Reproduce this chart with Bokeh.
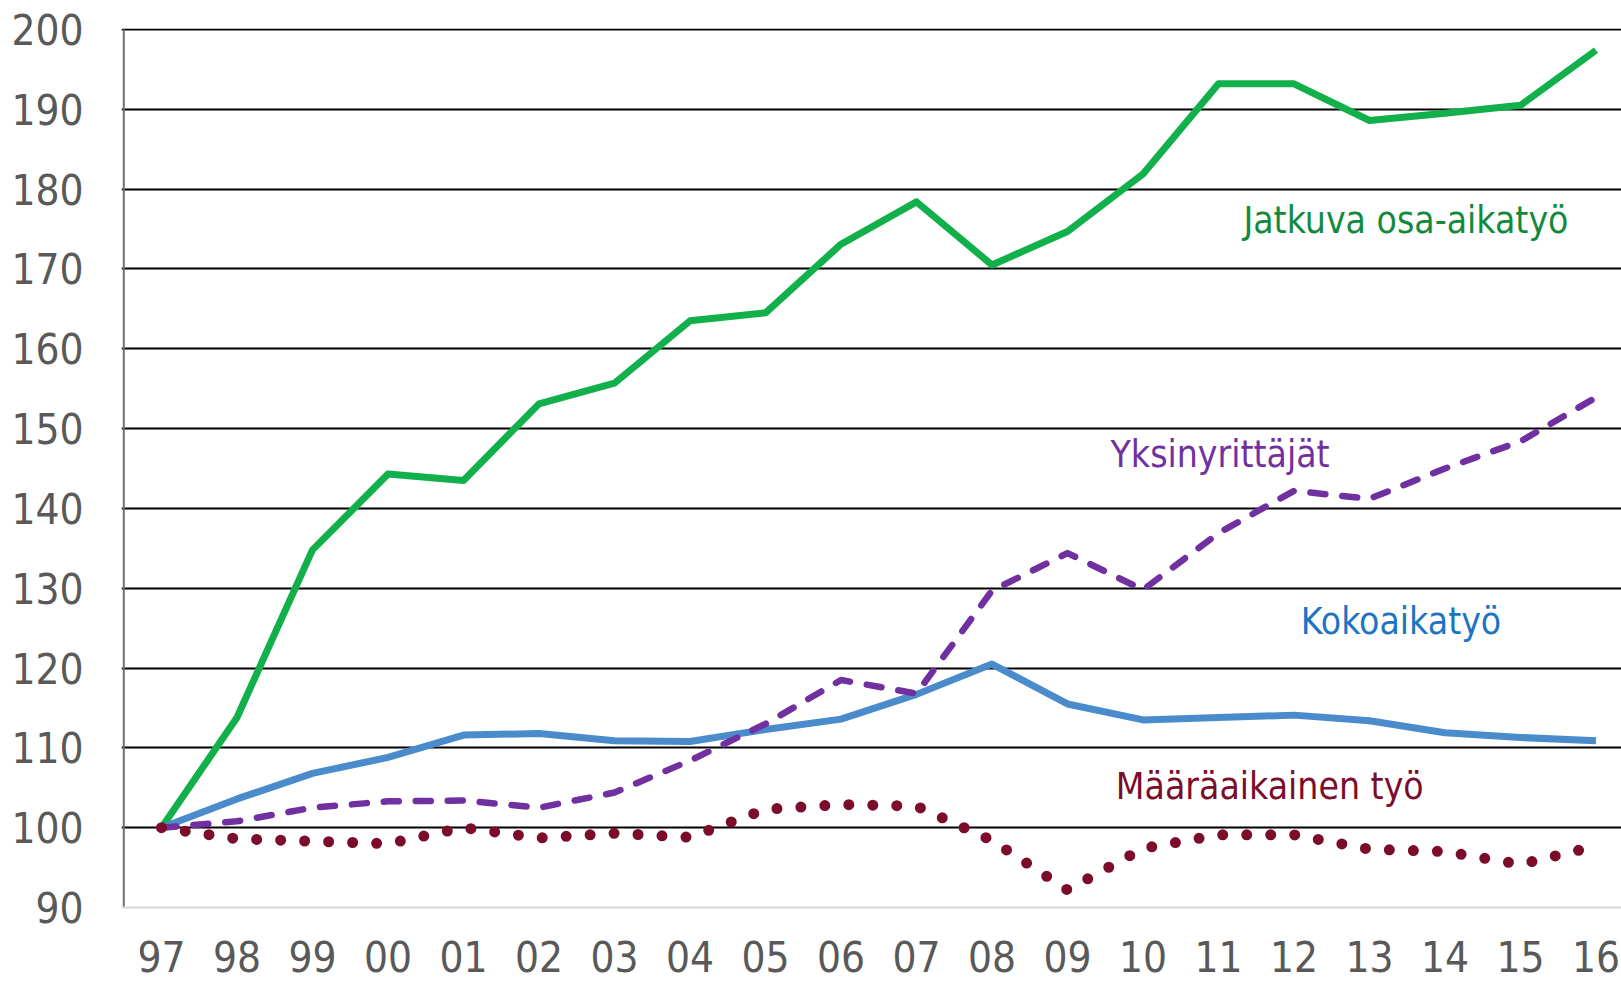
from bokeh.plotting import figure
from bokeh.models import Range1d, FixedTicker, ColumnDataSource, LabelSet, Label, Span
from bokeh.core.properties import value
from bokeh.embed import file_html
from bokeh.resources import INLINE

years = ["97", "98", "99", "00", "01", "02", "03", "04", "05", "06",
         "07", "08", "09", "10", "11", "12", "13", "14", "15", "16"]
x_idx = list(range(len(years)))

jatkuva_osa_aikatyo = [100, 113.8, 134.8, 144.3, 143.5, 153.1, 155.7, 163.5, 164.5, 173.1,
                       178.4, 170.5, 174.7, 181.9, 193.2, 193.2, 188.6, 189.5, 190.5, 197.4]
kokoaikatyo = [100, 103.6, 106.8, 108.8, 111.6, 111.8, 110.9, 110.8, 112.3, 113.6,
               116.7, 120.5, 115.5, 113.5, 113.8, 114.1, 113.4, 111.9, 111.3, 110.9]
yksinyrittajat = [100, 100.8, 102.5, 103.3, 103.4, 102.5, 104.4, 108.4, 113.0, 118.5,
                  116.8, 129.7, 134.4, 129.8, 136.9, 142.2, 141.2, 145.0, 148.4, 153.9]
maaraaikainen = [100, 98.6, 98.3, 98.0, 100.0, 98.7, 99.3, 98.8, 102.3, 102.9,
                 102.7, 98.4, 92.2, 97.4, 99.1, 99.1, 97.3, 97.0, 95.4, 97.7]

series_names = ["Jatkuva osa-aikatyö", "Yksinyrittäjät", "Kokoaikatyö", "Määräaikainen työ"]
y_ticks = [90, 100, 110, 120, 130, 140, 150, 160, 170, 180, 190, 200]
y_min, y_max = y_ticks[0], y_ticks[-1]

FONT = "DejaVu Sans Condensed"

# frame runs to the bottom of the canvas so that the year labels can sit below the x axis
PX_PER_UNIT = 7.98
PX_PER_YEAR = 75.5
p = figure(width=1621, height=982, output_backend="svg", toolbar_location=None,
           x_range=Range1d(-40 / PX_PER_YEAR, -40 / PX_PER_YEAR + 1500 / PX_PER_YEAR),
           y_range=Range1d(y_min - 75 / PX_PER_UNIT, y_max + 1 / PX_PER_UNIT),
           min_border_left=121, min_border_right=0, min_border_top=28, min_border_bottom=0)
p.outline_line_color = None
p.background_fill_color = "white"
p.border_fill_color = "white"

# y axis: labels only; its line is drawn from 90 to 200 below
p.yaxis.ticker = FixedTicker(ticks=y_ticks)
p.yaxis.major_label_text_font = FONT
p.yaxis.major_label_text_font_size = "42px"
p.yaxis.major_label_text_color = "#595959"
p.yaxis.major_label_standoff = 32
p.yaxis.major_tick_line_color = None
p.yaxis.minor_tick_line_color = None
p.yaxis.axis_line_color = None

p.xaxis.visible = False
p.xgrid.grid_line_color = None
p.ygrid.ticker = FixedTicker(ticks=y_ticks[1:])
p.ygrid.grid_line_color = "black"
p.ygrid.grid_line_width = 2

# x axis line (light grey) at 90 and y axis line from 90 to 200
p.add_layout(Span(location=y_min, dimension="width", line_color="#d9d9d9", line_width=2))
axis_x = -37.7 / PX_PER_YEAR
p.segment(x0=[axis_x], y0=[y_min], x1=[axis_x], y1=[y_max], line_color="#6f6f6f", line_width=2)

# year tick labels below the x axis
xlab_src = ColumnDataSource(dict(x=x_idx, y=[y_min] * len(x_idx), t=years))
p.add_layout(LabelSet(x="x", y="y", text="t", source=xlab_src, y_offset=-65,
                      text_align="center", text_baseline="alphabetic",
                      text_font=value(FONT), text_font_size="42px", text_color="#595959"))

# lines
p.line(x_idx, jatkuva_osa_aikatyo, line_color="#12b04b", line_width=7, line_join="round")
p.line(x_idx, kokoaikatyo, line_color="#4a8ccb", line_width=7, line_join="round")
p.line(x_idx, yksinyrittajat, line_color="#7030a0", line_width=6.5, line_join="round",
       line_cap="round", line_dash="15 17")
p.line(x_idx, maaraaikainen, line_color="#7b0c2a", line_width=11, line_join="round",
       line_cap="round", line_dash="0 24")

# series labels
lab_specs = [
    (series_names[0], 14.33, 176.1, "#128a3e"),
    (series_names[1], 12.57, 146.8, "#7030a0"),
    (series_names[2], 15.09, 125.8, "#1d74c2"),
    (series_names[3], 12.64, 105.1, "#7b0c2a"),
]
for txt, lx, ly, col in lab_specs:
    p.add_layout(Label(x=lx, y=ly, text=txt, text_font=FONT, text_font_size="37px",
                       text_color=col, text_align="left", text_baseline="alphabetic"))

open("out.html", "w").write(file_html(p, INLINE))
